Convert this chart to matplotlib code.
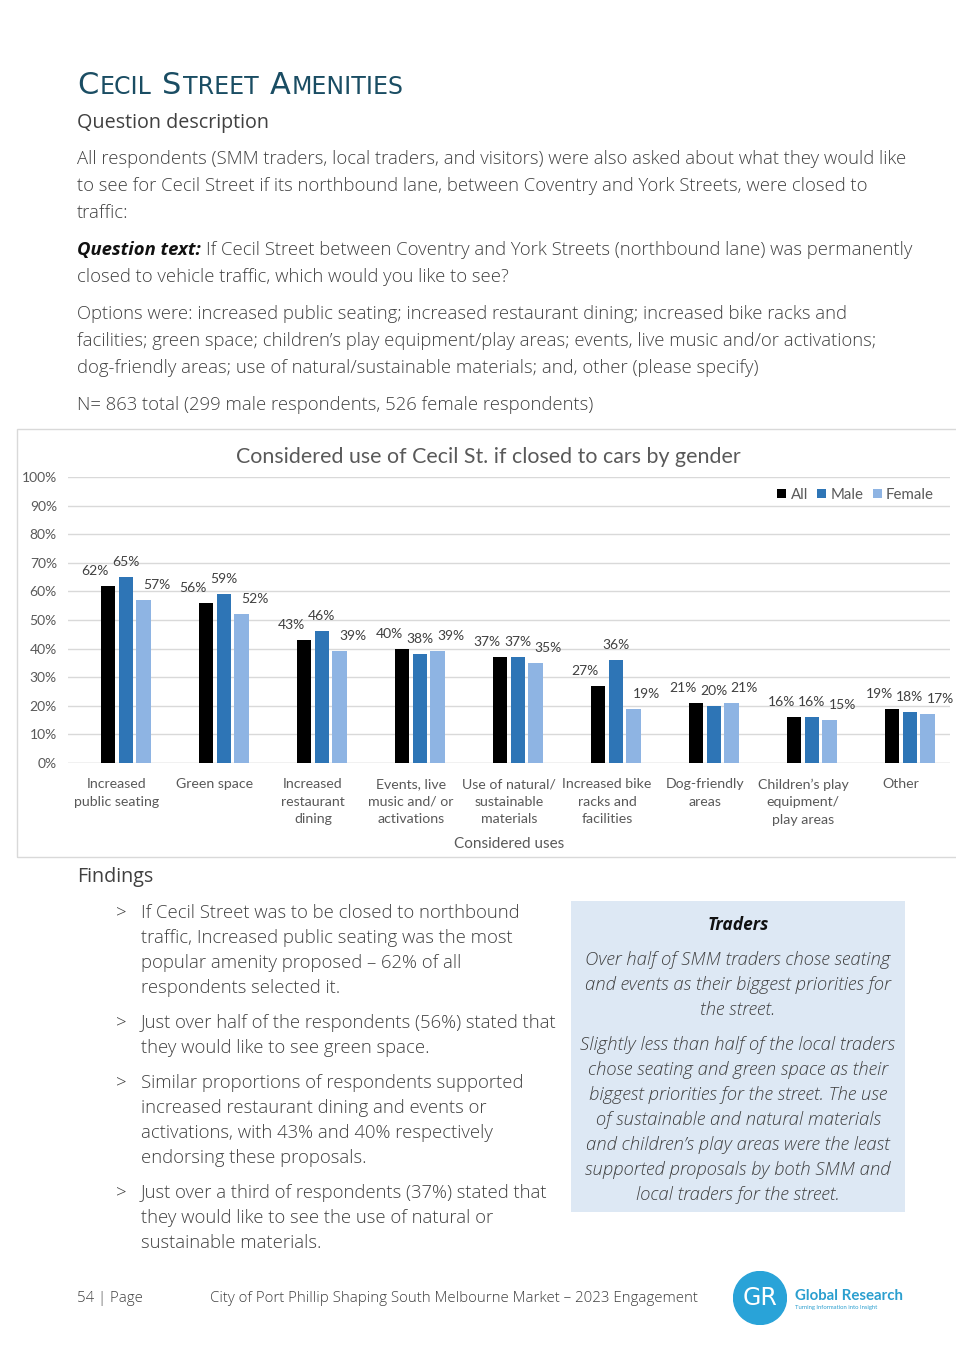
import numpy as np
import matplotlib.pyplot as plt
from matplotlib.patches import Rectangle, Circle

W, H = 956, 1369

categories = ['Increased\npublic seating', 'Green space', 'Increased\nrestaurant\ndining',
              'Events, live\nmusic and/ or\nactivations', 'Use of natural/\nsustainable\nmaterials',
              'Increased bike\nracks and\nfacilities', 'Dog-friendly\nareas',
              'Children\u2019s play\nequipment/\nplay areas', 'Other']
all_vals = [62, 56, 43, 40, 37, 27, 21, 16, 19]
male_vals = [65, 59, 46, 38, 37, 36, 20, 16, 18]
female_vals = [57, 52, 39, 39, 35, 19, 21, 15, 17]
series_names = ['All', 'Male', 'Female']
yticks = [0, 10, 20, 30, 40, 50, 60, 70, 80, 90, 100]

BODY = 'Open Sans'
CHART = 'Lato'
TXT = '#404040'
TEAL = '#1a4d63'

fig = plt.figure(figsize=(W / 100, H / 100), dpi=100)
fig.patch.set_facecolor('white')


def fx(x):
    return x / W


def fy(y):
    return 1 - y / H


def put(x, y, s, **kw):
    kw.setdefault('family', BODY)
    kw.setdefault('color', TXT)
    kw.setdefault('va', 'center')
    return fig.text(fx(x), fy(y), s, **kw)


renderer = fig.canvas.get_renderer()


def runs(x, y, parts):
    # parts: list of (text, kwargs, extra px after)
    for s, kw, extra in parts:
        t = put(x, y, s, **kw)
        bb = t.get_window_extent(renderer=renderer)
        x += bb.width + extra


# ---- heading
big = dict(fontsize=22, color=TEAL, family='DejaVu Sans', va='baseline')
small = dict(fontsize=17, color=TEAL, family='DejaVu Sans', va='baseline')
runs(77, 94, [('C', big, 1), ('ECIL', small, 11), ('S', big, 1), ('TREET', small, 11),
              ('A', big, 1), ('MENITIES', small, 0)])

put(77, 123, 'Question description', fontsize=14.2, fontweight='medium')

fs = 13.3
para = ['All respondents (SMM traders, local traders, and visitors) were also asked about what they would like',
        'to see for Cecil Street if its northbound lane, between Coventry and York Streets, were closed to',
        'traffic:']
for i, line in enumerate(para):
    put(77, 159 + 27 * i, line, fontsize=fs, fontweight='light')

runs(77, 250, [('Question text:', dict(fontsize=fs, fontweight='bold', style='italic', color='#111111'), 5),
               ('If Cecil Street between Coventry and York Streets (northbound lane) was permanently',
                dict(fontsize=fs, fontweight='light'), 0)])
put(77, 277, 'closed to vehicle traffic, which would you like to see?', fontsize=fs, fontweight='light')

opts = ['Options were: increased public seating; increased restaurant dining; increased bike racks and',
        'facilities; green space; children\u2019s play equipment/play areas; events, live music and/or activations;',
        'dog-friendly areas; use of natural/sustainable materials; and, other (please specify)']
for i, line in enumerate(opts):
    put(77, 314 + 27 * i, line, fontsize=fs, fontweight='light')
put(77, 405, 'N= 863 total (299 male respondents, 526 female respondents)', fontsize=fs, fontweight='light')

# ---- chart frame
fig.patches.append(Rectangle((fx(17), fy(857)), fx(945), (857 - 429) / H, transform=fig.transFigure,
                             fill=False, edgecolor='#d9d9d9', linewidth=1))
put(488, 457, 'Considered use of Cecil St. if closed to cars by gender', family=CHART,
    fontsize=15.4, color='#595959', ha='center')

ax = fig.add_axes([fx(68), fy(763), (950 - 68) / W, (763 - 477) / H])
x = np.arange(len(categories))
colors = ['#000000', '#2e75b6', '#8eb4e3']
offsets = [-0.09, 0.09, 0.27]
label_dx = [-13, 0, 13]
bw = 0.145
for vals, name, c, off, ldx in zip([all_vals, male_vals, female_vals], series_names, colors, offsets, label_dx):
    bars = ax.bar(x + off, vals, width=bw, color=c, label=name, zorder=3)
    for b, v in zip(bars, vals):
        ax.annotate(f'{v}%', (b.get_x() + b.get_width() / 2, v), xytext=(ldx, 15),
                    textcoords='offset pixels', ha='center', va='center',
                    fontsize=10, color='#404040', family=CHART)

ax.set_xlim(-0.5, len(categories) - 0.5)
ax.set_ylim(0, 100)
ax.set_yticks(yticks)
ax.set_yticklabels([f'{t}%' for t in yticks], fontsize=10, color='#595959', family=CHART)
ax.set_xticks(x)
ax.set_xticklabels(categories, fontsize=10.2, color='#595959', family=CHART, linespacing=1.55, va='top')
ax.tick_params(length=0, pad=11)
ax.tick_params(axis='y', pad=8)
ax.grid(axis='y', color='#d9d9d9', linewidth=1, zorder=0)
for s in ax.spines.values():
    s.set_visible(False)
ax.axhline(0, color='#d9d9d9', linewidth=1, zorder=2)
ax.set_xlabel('Considered uses', fontsize=11, color='#595959', family=CHART, labelpad=8)
ax.legend(loc='upper right', bbox_to_anchor=(fx(940), fy(482)), bbox_transform=fig.transFigure,
          ncol=3, frameon=False, handlelength=0.6, handleheight=0.6, handletextpad=0.3,
          columnspacing=0.6, borderaxespad=0, prop={'family': CHART, 'size': 10.8}, labelcolor='#595959')

# ---- findings
put(77, 877, 'Findings', fontsize=14.2, fontweight='medium')
bullets = [
    ['If Cecil Street was to be closed to northbound', 'traffic, Increased public seating was the most',
     'popular amenity proposed \u2013 62% of all', 'respondents selected it.'],
    ['Just over half of the respondents (56%) stated that', 'they would like to see green space.'],
    ['Similar proportions of respondents supported', 'increased restaurant dining and events or',
     'activations, with 43% and 40% respectively', 'endorsing these proposals.'],
    ['Just over a third of respondents (37%) stated that', 'they would like to see the use of natural or',
     'sustainable materials.'],
]
starts = [913, 1023, 1083, 1193]
for y0, lines in zip(starts, bullets):
    put(116, y0, '>', fontsize=fs, fontweight='light')
    for i, line in enumerate(lines):
        put(141, y0 + 25 * i, line, fontsize=fs, fontweight='light')

# ---- traders box
fig.patches.append(Rectangle((fx(571), fy(1212)), (905 - 571) / W, (1212 - 901) / H, transform=fig.transFigure,
                             facecolor='#dde8f4', edgecolor='none'))
put(738, 925, 'Traders', fontsize=12.5, fontweight='bold', style='italic', ha='center', color='#111111')
traders = ['Over half of SMM traders chose seating', 'and events as their biggest priorities for', 'the street.']
for i, line in enumerate(traders):
    put(738, 960 + 25 * i, line, fontsize=fs, fontweight='light', style='italic', ha='center')
traders2 = ['Slightly less than half of the local traders', 'chose seating and green space as their',
            'biggest priorities for the street. The use', 'of sustainable and natural materials',
            'and children\u2019s play areas were the least', 'supported proposals by both SMM and',
            'local traders for the street.']
for i, line in enumerate(traders2):
    put(738, 1045 + 25 * i, line, fontsize=fs, fontweight='light', style='italic', ha='center')

# ---- footer
put(77, 1298, '54 | Page', fontsize=10.8, fontweight='light')
put(210, 1298, 'City of Port Phillip Shaping South Melbourne Market \u2013 2023 Engagement', fontsize=10.8,
    fontweight='light')
lax = fig.add_axes([fx(733), fy(1325), 54 / W, 54 / H])
lax.set_xlim(-1, 1)
lax.set_ylim(-1, 1)
lax.set_aspect('equal')
lax.axis('off')
lax.add_patch(Circle((0, 0), 0.98, color='#29a3d8'))
lax.text(0.02, 0, 'GR', color='white', fontsize=17, ha='center', va='center', family='DejaVu Sans')
put(795, 1296, 'Global Research', fontsize=10.8, color='#2b9fcf', family='Lato', fontweight='bold')
put(795, 1308, 'Turning Information into Insight', fontsize=4.2, color='#2b9fcf', family='Lato')

fig.savefig('out.png', dpi=100)
